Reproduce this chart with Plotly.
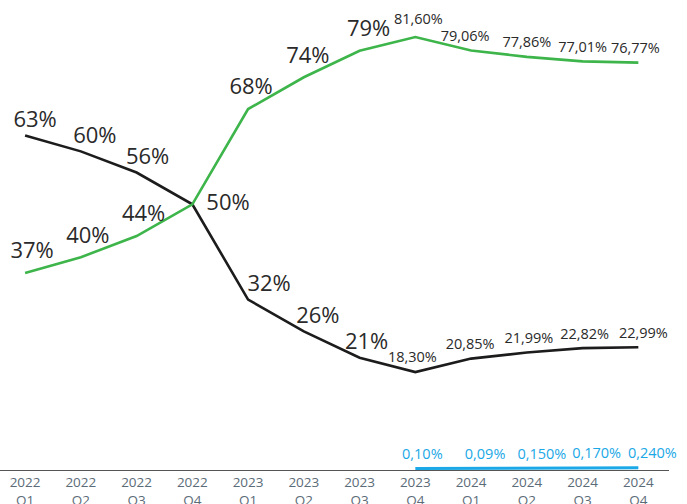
import plotly.graph_objects as go

categories = ["2022<br>Q1", "2022<br>Q2", "2022<br>Q3", "2022<br>Q4",
              "2023<br>Q1", "2023<br>Q2", "2023<br>Q3", "2023<br>Q4",
              "2024<br>Q1", "2024<br>Q2", "2024<br>Q3", "2024<br>Q4"]

black_values = [63, 60, 56, 50, 32, 26, 21, 18.30, 20.85, 21.99, 22.82, 22.99]
black_labels = ["63%", "60%", "56%", "50%", "32%", "26%", "21%",
                "18,30%", "20,85%", "21,99%", "22,82%", "22,99%"]

green_values = [37, 40, 44, 50, 68, 74, 79, 81.60, 79.06, 77.86, 77.01, 76.77]
green_labels = ["37%", "40%", "44%", "", "68%", "74%", "79%",
                "81,60%", "79,06%", "77,86%", "77,01%", "76,77%"]

blue_start = 7  # blue series starts at 2023 Q4
blue_values = [0.10, 0.09, 0.150, 0.170, 0.240]
blue_labels = ["0,10%", "0,09%", "0,150%", "0,170%", "0,240%"]

# ---- label styling (pixel nudges / vertical padding), not data ----
black_dx_px = [10, 14, 11, 14, 21, 14, 7, -3, -1, 2, 2, 5]
black_pos = ["top center"] * 3 + ["middle right"] + ["top center"] * 8
black_pad = [3, 3, 3, 0, 3, 3, 3, 8, 8, 8, 8, 8]

green_dx_px = [7, 7, 7, 0, 3, 4, 9, 3, -6, 0, 0, -3]
green_pad = [13, 13, 13, 0, 13, 13, 13, 14, 8, 8, 8, 8]

blue_dx_px = [7, 14, 15, 14, 14]
blue_pad = [8, 8, 8, 8, 8]

FONT = "Open Sans"
BIG, SMALL = 22, 14.5
PX_PER_UNIT = (687 - 18) / 12.0


def sizes(labels):
    return [SMALL if "," in s else BIG for s in labels]


def shifted(xs, dx_px):
    return [x + d / PX_PER_UNIT for x, d in zip(xs, dx_px)]


x_idx = list(range(len(categories)))
blue_x = x_idx[blue_start:]

fig = go.Figure()

# lines
fig.add_trace(go.Scatter(x=x_idx, y=black_values, mode="lines",
                         line=dict(color="#1c1c1c", width=2.6),
                         hoverinfo="skip", showlegend=False, cliponaxis=False))
fig.add_trace(go.Scatter(x=x_idx, y=green_values, mode="lines",
                         line=dict(color="#3db54a", width=2.6),
                         hoverinfo="skip", showlegend=False, cliponaxis=False))
fig.add_trace(go.Scatter(x=blue_x, y=blue_values, mode="lines",
                         line=dict(color="#1aa8e6", width=3),
                         hoverinfo="skip", showlegend=False, cliponaxis=False))

# labels
fig.add_trace(go.Scatter(
    x=shifted(x_idx, black_dx_px), y=black_values, mode="markers+text",
    marker=dict(size=black_pad, opacity=0),
    text=black_labels, textposition=black_pos,
    textfont=dict(family=FONT, color="#2a2a2a", size=sizes(black_labels)),
    cliponaxis=False, hoverinfo="skip", showlegend=False,
))
fig.add_trace(go.Scatter(
    x=shifted(x_idx, green_dx_px), y=green_values, mode="markers+text",
    marker=dict(size=green_pad, opacity=0),
    text=green_labels, textposition="top center",
    textfont=dict(family=FONT, color="#2a2a2a", size=sizes(green_labels)),
    cliponaxis=False, hoverinfo="skip", showlegend=False,
))
fig.add_trace(go.Scatter(
    x=shifted(blue_x, blue_dx_px), y=blue_values, mode="markers+text",
    marker=dict(size=blue_pad, opacity=0),
    text=blue_labels, textposition="top center",
    textfont=dict(family=FONT, color="#1aa8e6", size=SMALL),
    cliponaxis=False, hoverinfo="skip", showlegend=False,
))

fig.update_layout(
    width=687, height=504,
    margin=dict(l=0, r=18, t=0, b=34, autoexpand=False),
    plot_bgcolor="white", paper_bgcolor="white",
    font=dict(family=FONT),
    xaxis=dict(
        range=[-0.45, 11.55], automargin=False,
        tickmode="array", tickvals=x_idx, ticktext=categories,
        showgrid=False, zeroline=False,
        showline=True, linecolor="#555555", linewidth=1,
        ticks="", tickfont=dict(family=FONT, size=13.5, color="#5b6b78"),
    ),
    yaxis=dict(
        range=[-0.2, 88.6], visible=False, showgrid=False, zeroline=False,
        automargin=False,
    ),
)

fig.write_html(
    "out.html",
    config={"displayModeBar": False},
    post_script="document.body.style.margin='0';document.body.style.overflow='hidden';",
)
